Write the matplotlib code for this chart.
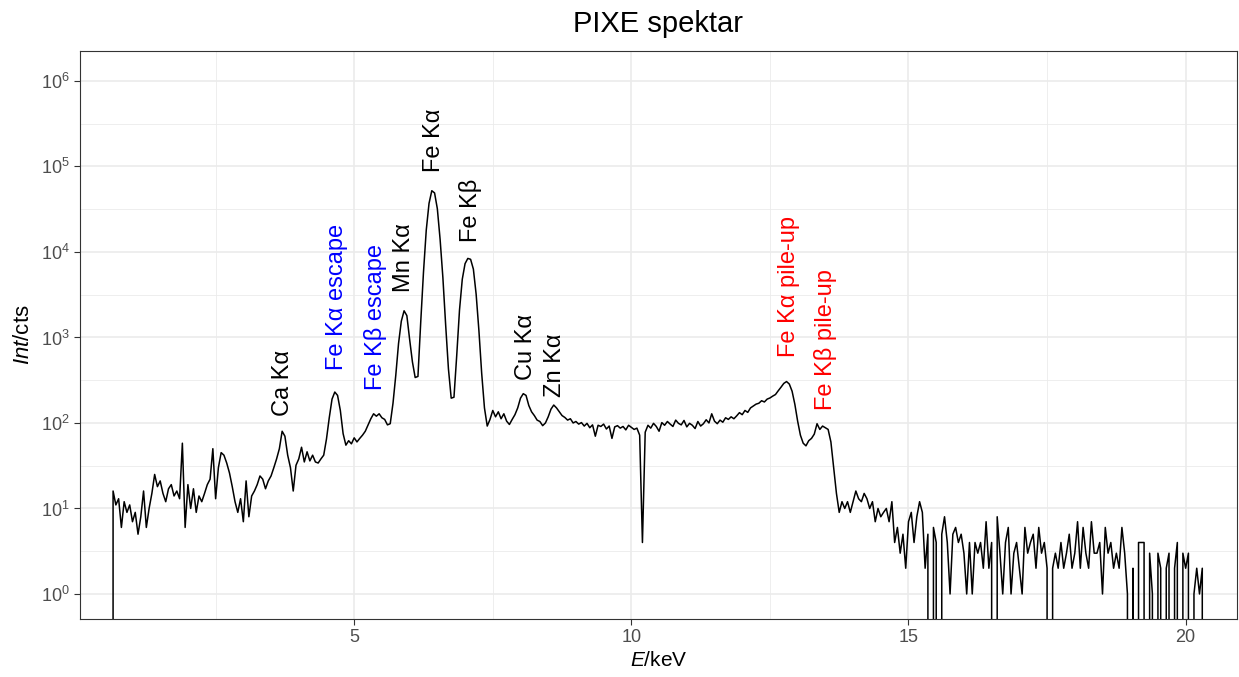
import numpy as np
import matplotlib.pyplot as plt
from matplotlib.ticker import FixedLocator, LogFormatterSciNotation

# Fonts (Arial-like)
plt.rcParams['font.family'] = ['Liberation Sans', 'DejaVu Sans']
plt.rcParams['mathtext.fontset'] = 'custom'
plt.rcParams['mathtext.rm'] = 'Liberation Sans'
plt.rcParams['mathtext.it'] = 'Liberation Sans:italic'

# --- Spectrum data: channel energies (keV) and counts ---
e_start = 0.60
e_step = 0.05
counts = [
    # 0.60 - 1.55
    0, 16, 11, 13, 6, 12, 9, 11, 7, 9, 5, 8, 16, 6, 10, 15, 25, 18, 21, 15,
    # 1.60 - 2.55
    12, 17, 19, 14, 16, 13, 58, 6, 19, 10, 17, 9, 14, 12, 15, 19, 22, 50, 13, 30,
    # 2.60 - 3.55
    45, 42, 34, 26, 18, 12, 9, 13, 7, 21, 8, 14, 16, 19, 24, 22, 17, 21, 24, 30,
    # 3.60 - 4.55
    38, 50, 80, 70, 42, 30, 16, 32, 38, 52, 35, 46, 36, 42, 35, 34, 38, 42, 65, 115,
    # 4.60 - 5.55
    190, 230, 210, 140, 75, 55, 62, 57, 67, 60, 66, 72, 80, 95, 112, 128, 120, 128, 115, 110,
    # 5.60 - 6.55
    95, 98, 170, 360, 850, 1550, 2050, 1800, 950, 520, 340, 350, 1500, 5800, 18000,
    37000, 52000, 49000, 32000, 14000,
    # 6.60 - 7.55
    5000, 1400, 430, 195, 200, 620, 2100, 4800, 7300, 8400, 8200, 6300, 3200, 1200, 380,
    150, 92, 110, 140, 118,
    # 7.60 - 8.55
    135, 112, 128, 105, 96, 110, 125, 150, 195, 220, 210, 160, 135, 122, 108, 104, 93, 100, 118, 145,
    # 8.60 - 9.55
    162, 150, 135, 122, 116, 108, 112, 100, 104, 97, 101, 92, 99, 88, 95, 70, 94, 91, 97, 85,
    # 9.60 - 10.55
    92, 66, 90, 93, 87, 91, 83, 94, 89, 84, 87, 72, 4, 78, 94, 87, 99, 91, 80, 101,
    # 10.60 - 11.55
    94, 104, 97, 91, 108, 99, 95, 107, 90, 99, 94, 86, 104, 92, 98, 109, 100, 128, 105, 98,
    # 11.60 - 12.55
    108, 102, 115, 110, 118, 112, 121, 132, 125, 140, 133, 150, 158, 166, 170, 182, 176, 190, 196, 206,
    # 12.60 - 13.55
    215, 238, 262, 290, 305, 285, 235, 165, 105, 72, 58, 54, 62, 66, 74, 98, 84, 92, 88, 84,
    # 13.60 - 14.55
    60, 30, 15, 9, 12, 10, 12, 9, 12, 16, 13, 12, 15, 13, 10, 12, 7, 10, 8, 9,
    # 14.60 - 15.55
    10, 7, 12, 4, 6, 3, 5, 2, 7, 9, 4, 8, 12, 9, 2, 5, 0, 6, 4, 0,
    # 15.60 - 16.55
    5, 8, 4, 1, 5, 6, 4, 5, 3, 1, 4, 1, 4, 3, 4, 2, 7, 2, 4, 0,
    # 16.60 - 17.55
    8, 3, 1, 4, 6, 1, 3, 4, 2, 1, 6, 3, 4, 5, 2, 6, 3, 4, 2, 0,
    # 17.60 - 18.55
    2, 3, 2, 4, 2, 3, 5, 2, 3, 7, 2, 6, 3, 2, 7, 3, 3, 4, 1, 6,
    # 18.60 - 19.55
    3, 4, 2, 3, 2, 6, 3, 1, 0, 2, 0, 4, 4, 4, 0, 3, 1, 0, 3, 2,
    # 19.60 - 20.35
    0, 2, 3, 0, 2, 4, 0, 3, 2, 3, 0, 1, 2, 1, 2, 0,
]
energy = e_start + e_step * np.arange(len(counts))

# --- Peak labels ---
label_text = ['Ca Kα', 'Fe Kα escape', 'Fe Kβ escape', 'Mn Kα', 'Fe Kα', 'Fe Kβ',
              'Cu Kα', 'Zn Kα', 'Fe Kα pile-up', 'Fe Kβ pile-up']
label_x = [3.72, 4.69, 5.39, 5.90, 6.44, 7.09, 8.10, 8.62, 12.84, 13.50]
label_y = [120, 417, 243, 3400, 87000, 13000, 317, 200, 590, 142]
label_color = ['black', 'blue', 'blue', 'black', 'black', 'black',
               'black', 'black', 'red', 'red']

fig = plt.figure(figsize=(12.39, 6.77), dpi=100)
ax = fig.add_axes([0.0646, 0.0857, 0.9335, 0.839])

ax.plot(energy, counts, color='black', linewidth=1.1, zorder=3)
ax.set_yscale('log', nonpositive='clip')

for txt, x, y, c in zip(label_text, label_x, label_y, label_color):
    ax.text(x, y, txt, rotation=90, ha='center', va='bottom', color=c, fontsize=17, zorder=4)

ax.set_xlim(0.054, 20.92)
ax.set_ylim(0.51, 2.24e6)

# Ticks and grid (theme_bw look)
ax.xaxis.set_major_locator(FixedLocator([5, 10, 15, 20]))
ax.xaxis.set_minor_locator(FixedLocator([2.5, 7.5, 12.5, 17.5]))
ax.yaxis.set_major_locator(FixedLocator([10.0 ** k for k in range(0, 7)]))
ax.yaxis.set_minor_locator(FixedLocator([10.0 ** (k + 0.5) for k in range(-1, 7)]))
ax.yaxis.set_major_formatter(LogFormatterSciNotation())
ax.yaxis.set_minor_formatter(plt.NullFormatter())

ax.grid(which='major', color='#EBEBEB', linewidth=1.2, zorder=0)
ax.grid(which='minor', color='#EBEBEB', linewidth=0.6, zorder=0)
ax.set_axisbelow(True)
ax.tick_params(which='major', length=4, width=0.8, color='#333333',
               labelsize=13, labelcolor='#4D4D4D')
ax.tick_params(which='minor', length=0)
for s in ax.spines.values():
    s.set_color('#333333')
    s.set_linewidth(0.8)

ax.set_xlabel(r'$\it{E}$/keV', fontsize=15, labelpad=3)
ax.set_ylabel(r'$\it{Int}$/cts', fontsize=16, labelpad=5)
ax.set_title('PIXE spektar', fontsize=21, pad=14)

plt.savefig('out.png', dpi=100)
plt.close()
